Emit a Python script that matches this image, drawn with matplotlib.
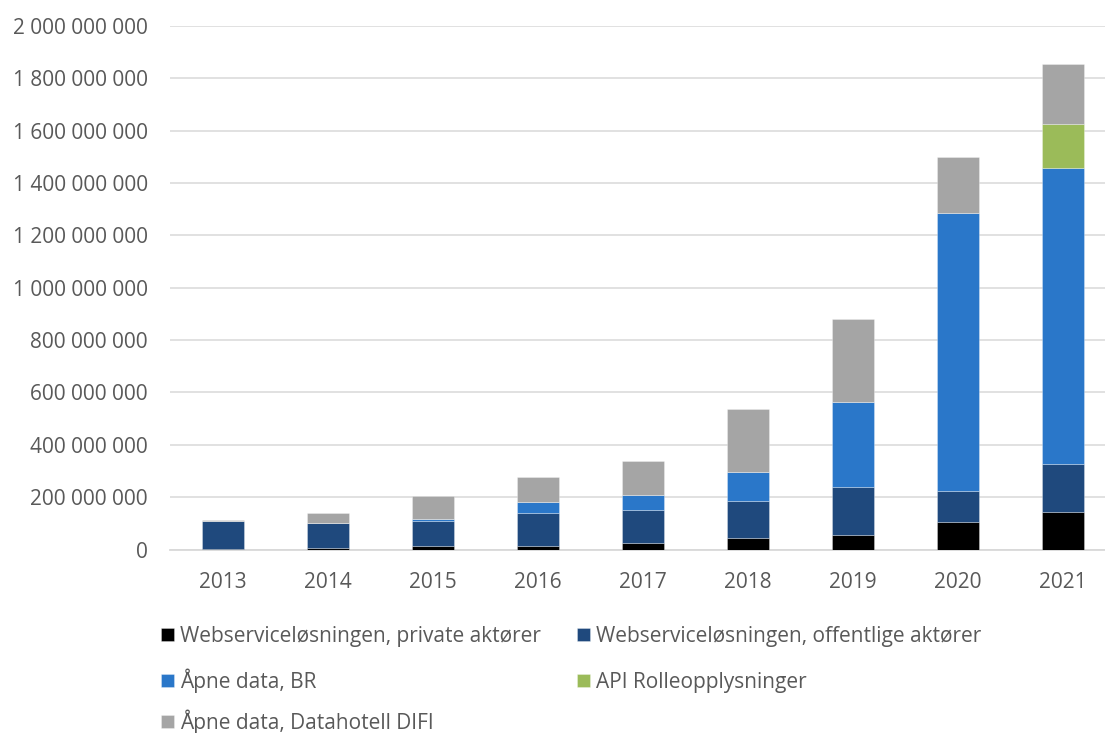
import matplotlib.pyplot as plt
import numpy as np
from matplotlib.ticker import FuncFormatter

plt.rcParams['font.family'] = ['Open Sans', 'DejaVu Sans']

# values (millions of lookups)
years = ['2013', '2014', '2015', '2016', '2017', '2018', '2019', '2020', '2021']
private = [2, 5, 15, 15, 23, 45, 56, 106, 143]
offentlige = [105, 95, 93, 123, 128, 140, 184, 119, 182]
aapne_br = [0, 0, 10, 43, 59, 111, 322, 1062, 1133]
api_roller = [0, 0, 0, 0, 0, 0, 0, 0, 169]
difi = [4, 38, 88, 95, 127, 241, 318, 213, 228]

series = [
    ('Webserviceløsningen, private aktører', private, '#000000'),
    ('Webserviceløsningen, offentlige aktører', offentlige, '#1F497D'),
    ('Åpne data, BR', aapne_br, '#2A77C9'),
    ('API Rolleopplysninger', api_roller, '#9BBB59'),
    ('Åpne data, Datahotell DIFI', difi, '#A5A5A5'),
]

txt = '#595959'
W, H = 1105, 733
fig = plt.figure(figsize=(W / 100, H / 100), dpi=100)
ax = fig.add_axes([170/W, 1 - 549.5/H, 935/W, (549.5 - 26)/H])

x = np.arange(len(years))
bottom = np.zeros(len(years))
handles = []
for name, vals, col in series:
    v = np.array(vals) * 1e6
    b = ax.bar(x, v, 0.4, bottom=bottom, color=col, edgecolor=(1, 1, 1, 0.35),
               linewidth=0.6, zorder=3, label=name)
    handles.append(b)
    bottom += v

ax.set_xlim(-0.5, 8.4)
ax.set_ylim(0, 2e9)
ax.set_yticks(np.arange(0, 2.01e9, 2e8))
ax.yaxis.set_major_formatter(FuncFormatter(lambda v, p: f'{int(round(v)):,}'.replace(',', ' ')))
ax.set_xticks(x)
ax.set_xticklabels(years)
ax.grid(axis='y', color='#D9D9D9', linewidth=1.1, zorder=0)
for s in ['top', 'right', 'left']:
    ax.spines[s].set_visible(False)
ax.spines['bottom'].set_color('#D9D9D9')
ax.spines['bottom'].set_linewidth(1.3)
ax.tick_params(axis='both', length=0, labelsize=15, labelcolor=txt)
ax.tick_params(axis='y', pad=16)
ax.tick_params(axis='x', pad=16)

# legend laid out like Excel: 2 columns, row-major, one small legend per entry
# (anchored at the bottom so the baselines line up in each row)
cells = [(161, 647), (577, 647), (161, 693), (577, 693), (161, 734)]
for (lx, ly), h, (name, _, _) in zip(cells, handles, series):
    leg = fig.legend([h], [name], loc='lower left', bbox_to_anchor=(lx/W, 1 - ly/H),
                     frameon=False, fontsize=15, handlelength=0.6, handleheight=0.6,
                     handletextpad=0.3, borderpad=0, borderaxespad=0)
    for t in leg.get_texts():
        t.set_color(txt)

fig.savefig('out.png', dpi=100)
